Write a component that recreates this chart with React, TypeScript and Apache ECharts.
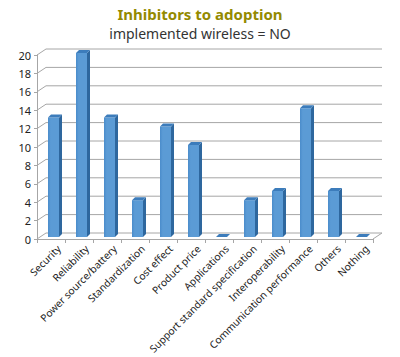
import React, { useEffect, useRef } from "react";
import * as echarts from "echarts";

const categories = [
  "Security",
  "Reliability",
  "Power source/battery",
  "Standardization",
  "Cost effect",
  "Product price",
  "Applications",
  "Support standard specification",
  "Interoperability",
  "Communication performance",
  "Others",
  "Nothing",
];
const values = [13, 20, 13, 4, 12, 10, 0, 4, 5, 14, 5, 0];
const yTicks = [0, 2, 4, 6, 8, 10, 12, 14, 16, 18, 20];

const DX = 9;
const DY = -6;
const WALL = "#a6a6a6";

export default function App() {
  const ref = useRef<HTMLDivElement>(null);
  useEffect(() => {
    if (!ref.current) return;
    const chart = echarts.init(ref.current, undefined, { renderer: "svg" });
    const font = "'Noto Sans', 'Open Sans', sans-serif";
    chart.setOption({
      animation: false,
      title: [
        {
          text: "Inhibitors to adoption",
          left: "center",
          top: 5,
          padding: 0,
          textStyle: { fontSize: 15, lineHeight: 17, fontWeight: "bold", color: "#948a00", fontFamily: font },
        },
        {
          text: "implemented wireless = NO",
          left: "center",
          top: 25,
          padding: 0,
          textStyle: { fontSize: 14, lineHeight: 16, fontWeight: "normal", color: "#333", fontFamily: font },
        },
      ],
      grid: { left: 37, right: 27, top: 55, bottom: 118, containLabel: false, outerBoundsMode: "none" },
      xAxis: {
        type: "category",
        data: categories,
        axisLine: { show: true, lineStyle: { color: WALL } },
        axisTick: { show: true, length: 4, alignWithLabel: false, lineStyle: { color: WALL } },
        axisLabel: {
          rotate: 45,
          interval: 0,
          fontSize: 10.2,
          lineHeight: 22,
          color: "#222",
          fontFamily: font,
          margin: 0,
          verticalAlign: "top",
        },
        splitLine: { show: false },
      },
      yAxis: {
        type: "value",
        min: 0,
        max: 20,
        interval: 2,
        axisLine: { show: true, lineStyle: { color: WALL } },
        axisTick: { show: true, length: 3, lineStyle: { color: WALL } },
        axisLabel: { fontSize: 11, color: "#222", fontFamily: font, margin: 6 },
        splitLine: { show: false },
      },
      series: [
        {
          type: "custom",
          z: 1,
          silent: true,
          data: yTicks.map((v) => [0, v]),
          renderItem: (params: any, api: any) => {
            const cs = params.coordSys;
            const v = api.value(1);
            const y = api.coord([0, v])[1];
            const x0 = cs.x;
            const x1 = cs.x + cs.width;
            const style = { stroke: WALL, lineWidth: 1, fill: "none" };
            const children: any[] = [
              { type: "line", shape: { x1: x0, y1: y, x2: x0 + DX, y2: y + DY }, style },
              { type: "line", shape: { x1: x0 + DX, y1: y + DY, x2: x1 + DX, y2: y + DY }, style },
            ];
            if (v === 0) {
              children.push({ type: "line", shape: { x1: x1, y1: y, x2: x1 + DX, y2: y + DY }, style });
            }
            return { type: "group", children };
          },
        },
        {
          type: "custom",
          z: 2,
          data: values.map((v, i) => [i, v]),
          renderItem: (params: any, api: any) => {
            const idx = api.value(0);
            const v = api.value(1);
            const top = api.coord([idx, v]);
            const base = api.coord([idx, 0]);
            const w = 11;
            const d = 3;
            const x = top[0] - 3;
            const yT = top[1] - 2;
            const yB = base[1] - 2;
            const children: any[] = [];
            if (yB - yT > 0.5) {
              children.push({
                type: "rect",
                shape: { x, y: yT, width: w, height: yB - yT },
                style: {
                  fill: new echarts.graphic.LinearGradient(0, 0, 1, 0, [
                    { offset: 0, color: "#4a8ccb" },
                    { offset: 0.25, color: "#5b9bd5" },
                    { offset: 1, color: "#5b9bd5" },
                  ]),
                },
              });
              children.push({
                type: "polygon",
                shape: { points: [[x + w, yT], [x + w + d, yT - d], [x + w + d, yB - d], [x + w, yB]] },
                style: { fill: "#2e679e" },
              });
            }
            children.push({
              type: "polygon",
              shape: { points: [[x, yT], [x + d, yT - d], [x + w + d, yT - d], [x + w, yT]] },
              style: { fill: "#3c7cbb" },
            });
            return { type: "group", children };
          },
        },
      ],
    });
    return () => chart.dispose();
  }, []);
  return (
    <div
      ref={ref}
      style={{ position: "fixed", left: 0, top: 0, width: 400, height: 357, background: "#fff" }}
    />
  );
}
